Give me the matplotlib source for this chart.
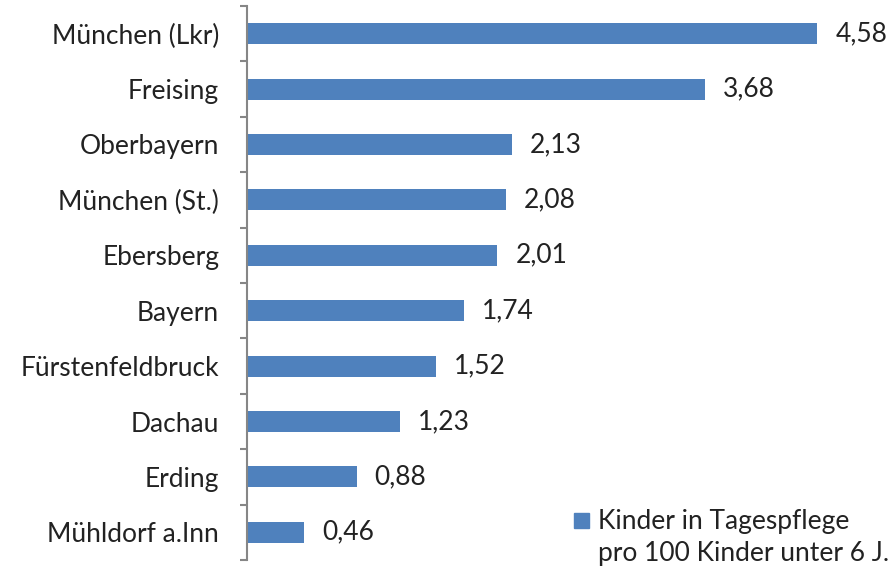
import matplotlib.pyplot as plt
from matplotlib.patches import Rectangle

# data
regions = ['München (Lkr)', 'Freising', 'Oberbayern', 'München (St.)', 'Ebersberg',
           'Bayern', 'Fürstenfeldbruck', 'Dachau', 'Erding', 'Mühldorf a.Inn']
values = [4.58, 3.68, 2.13, 2.08, 2.01, 1.74, 1.52, 1.23, 0.88, 0.46]
legend_lines = ['Kinder in Tagespflege', 'pro 100 Kinder unter 6 J.']

plt.rcParams['font.family'] = ['Lato', 'DejaVu Sans']
fs = 19
W, H = 896, 568

fig = plt.figure(figsize=(8.96, 5.68), dpi=100)
ax = fig.add_axes([247 / W, 8 / H, (W - 247) / W, 554 / H])

bar_color = '#4F81BD'
pos = list(range(len(regions)))[::-1]
ax.barh(pos, values, height=0.38, color=bar_color)

for p, v in zip(pos, values):
    ax.annotate(f'{v:.2f}'.replace('.', ','), (v, p), xytext=(13, 0),
                textcoords='offset points', va='center', ha='left',
                fontsize=fs, color='#222222')

ax.set_xlim(0, 649 / 124.5)
ax.set_ylim(-0.5, len(regions) - 0.5)
# category labels on major ticks, separator ticks on minor ticks
ax.set_yticks(pos)
ax.set_yticklabels(regions)
ax.tick_params(axis='y', which='major', length=0, pad=20, labelsize=fs, labelcolor='#222222')
ax.set_yticks([p - 0.5 for p in range(len(regions) + 1)], minor=True)
ax.tick_params(axis='y', which='minor', length=5, width=1.5, color='#868686', direction='out')
ax.set_xticks([])

for s in ['top', 'right', 'bottom']:
    ax.spines[s].set_visible(False)
ax.spines['left'].set_color('#868686')
ax.spines['left'].set_linewidth(1.5)

# legend: square aligned with the first text line
fig.patches.append(Rectangle((574 / W, 1 - 528 / H), 15 / W, 15 / H,
                             transform=fig.transFigure, color=bar_color))
fig.text(598 / W, 1 - 529 / H, legend_lines[0], fontsize=fs, color='#222222', va='baseline')
fig.text(598 / W, 1 - 561 / H, legend_lines[1], fontsize=fs, color='#222222', va='baseline')

fig.savefig('out.png', dpi=100)
